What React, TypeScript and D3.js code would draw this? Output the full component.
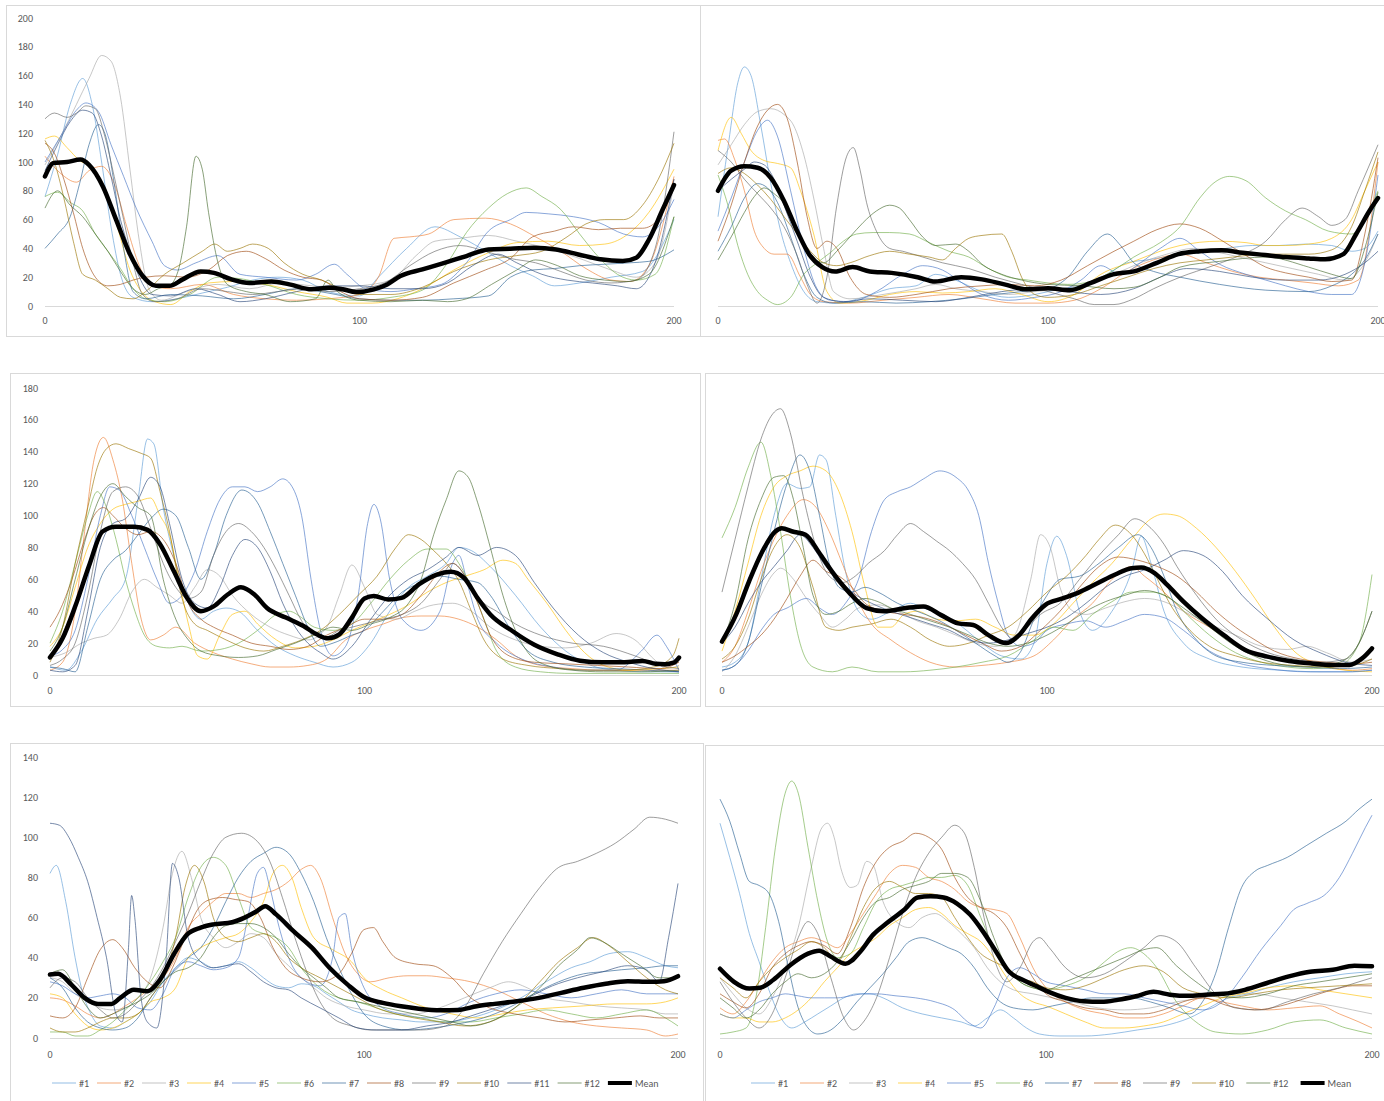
import React from 'react';
import * as d3 from 'd3';

type Pt = [number, number];

const SERIES_COLORS = ['#5B9BD5', '#ED7D31', '#A5A5A5', '#FFC000', '#4472C4', '#70AD47', '#255E91', '#9E480E', '#636363', '#997300', '#264478', '#43682B'];
const LABELS_12 = ['#1', '#2', '#3', '#4', '#5', '#6', '#7', '#8', '#9', '#10', '#11', '#12'];
const LABELS_11 = ['#1', '#2', '#3', '#4', '#5', '#6', '#7', '#8', '#9', '#10', '#12'];
const X_TICKS = [0, 100, 200];

// ---------- Panel 1 ----------
const p1Series: Pt[][] = [
  [[0,76],[4,105],[8,140],[12,158],[15,140],[18,100],[21,55],[24,22],[28,6],[34,3],[42,5],[50,9],[58,13],[66,18],[74,20],[82,18],[90,10],[100,7],[106,20],[115,40],[124,55],[132,48],[141,37],[148,28],[155,21],[162,14],[170,16],[180,20],[190,24],[200,60]],
  [[0,104],[5,92],[10,86],[14,94],[18,97],[22,85],[26,55],[30,28],[34,14],[40,12],[50,15],[60,8],[70,5],[80,4],[90,5],[100,8],[106,20],[111,47],[116,48],[122,50],[130,60],[140,61],[148,57],[156,48],[164,38],[172,26],[180,18],[186,17],[192,28],[200,90]],
  [[0,98],[5,118],[10,140],[14,158],[18,174],[21,170],[24,145],[27,95],[30,45],[33,12],[37,4],[45,10],[55,15],[65,12],[75,16],[85,14],[92,13],[100,14],[110,18],[118,35],[124,45],[132,47],[141,49],[150,45],[160,40],[170,33],[180,25],[188,20],[194,30],[200,85]],
  [[0,116],[3,118],[7,110],[11,101],[15,96],[19,82],[23,55],[27,25],[30,12],[35,3],[40,1],[46,10],[52,16],[60,17],[70,15],[80,10],[90,6],[96,2],[104,2],[112,5],[120,12],[130,25],[141,37],[150,44],[160,45],[170,42],[178,43],[186,51],[192,65],[200,95]],
  [[0,100],[5,118],[10,136],[13,141],[17,135],[21,112],[25,90],[29,68],[34,45],[38,28],[42,25],[48,30],[55,35],[62,22],[70,20],[80,18],[86,22],[92,29],[96,22],[102,12],[110,10],[118,12],[126,15],[134,30],[141,52],[148,60],[153,65],[160,64],[168,62],[176,58],[184,50],[190,48],[195,55],[200,74]],
  [[0,76],[4,79],[8,72],[12,66],[16,50],[20,38],[24,26],[28,12],[32,5],[38,3],[46,8],[55,20],[62,19],[70,15],[80,8],[90,5],[100,4],[110,6],[120,11],[128,30],[134,51],[141,68],[147,78],[153,82],[158,76],[164,67],[170,50],[176,34],[182,22],[188,18],[194,22],[200,62]],
  [[0,40],[4,50],[8,62],[11,85],[14,112],[17,126],[19,120],[22,85],[25,40],[28,10],[32,5],[40,8],[50,7],[60,5],[70,8],[80,12],[90,9],[100,5],[110,4],[120,4],[130,5],[141,7],[148,20],[155,25],[162,26],[170,28],[178,29],[186,30],[192,31],[200,39]],
  [[0,113],[3,106],[6,88],[9,65],[12,40],[16,20],[20,14],[24,15],[28,18],[32,20],[38,21],[45,20],[52,25],[58,35],[64,38],[70,33],[76,25],[82,20],[88,18],[94,10],[100,5],[110,4],[120,6],[130,16],[140,25],[148,33],[155,48],[162,52],[168,55],[176,53],[183,54],[190,54],[195,60],[200,88]],
  [[0,130],[3,134],[7,131],[10,134],[13,139],[16,137],[19,118],[22,90],[25,60],[28,30],[31,8],[35,3],[42,5],[50,12],[58,10],[66,8],[74,10],[82,12],[90,10],[100,12],[108,16],[116,28],[124,38],[132,42],[140,38],[148,33],[156,30],[164,24],[172,18],[180,16],[188,18],[194,40],[200,121]],
  [[0,115],[3,100],[6,75],[9,45],[12,22],[16,18],[20,12],[24,6],[28,5],[32,10],[38,22],[44,30],[50,38],[54,43],[58,38],[62,40],[66,43],[71,40],[76,30],[82,22],[88,18],[94,12],[100,8],[110,8],[120,13],[130,24],[141,32],[150,35],[158,38],[166,48],[172,57],[178,60],[184,60],[190,70],[195,88],[200,113]],
  [[0,94],[4,112],[8,128],[12,136],[15,134],[18,118],[21,90],[24,60],[27,38],[30,20],[34,8],[40,7],[48,12],[55,8],[62,3],[70,5],[80,10],[90,14],[100,14],[110,12],[120,12],[128,16],[136,28],[144,36],[150,30],[158,22],[166,18],[174,16],[182,14],[188,12],[194,30],[200,88]],
  [[0,68],[4,80],[8,70],[12,62],[16,50],[20,38],[24,24],[28,12],[32,8],[36,12],[40,15],[43,30],[45,55],[48,104],[50,95],[52,65],[55,30],[58,15],[64,10],[70,8],[78,3],[86,5],[90,18],[93,10],[100,4],[110,3],[120,4],[128,3],[134,5],[142,15],[150,25],[156,32],[163,28],[170,21],[178,18],[185,17],[192,22],[200,62]],
];
const p1Mean: Pt[] = [[0,90],[2.8,99.4],[7,100],[11.3,101.7],[14,98],[18.4,83],[22.6,60],[26.8,37],[31,21],[35.3,14],[39.6,14],[43.8,18.5],[49.5,24],[53.7,23],[59.3,18.5],[65,16],[72,17],[77.7,15],[84.8,11.6],[90.4,12.7],[94.7,11.6],[98.9,9.7],[104.6,11.6],[108.8,15],[113,20.8],[120,25.4],[127,30],[134,34.7],[141,39.3],[148,39.8],[155.4,40.5],[162.5,39.3],[169.6,35.8],[176.6,32.4],[183.7,31.2],[188,33.5],[192,46],[196.4,67],[200,84]];

// ---------- Panel 2 ----------
const p2Series: Pt[][] = [
  [[0,62],[3,110],[6,155],[8,166],[10,160],[13,125],[16,85],[19,52],[22,30],[26,10],[30,3],[36,2],[44,6],[52,12],[60,14],[66,22],[72,18],[80,10],[88,6],[96,8],[104,12],[112,15],[118,22],[124,30],[130,32],[138,35],[146,37],[154,40],[162,42],[170,42],[178,43],[186,42],[192,38],[196,40],[200,52]],
  [[0,115],[2,116],[5,102],[8,80],[11,52],[14,40],[17,36],[21,36],[25,20],[28,8],[32,3],[40,2],[50,4],[60,6],[70,8],[80,5],[90,2],[100,2],[108,4],[116,12],[124,24],[132,32],[140,36],[148,30],[156,24],[164,20],[172,18],[180,16],[188,14],[194,18],[200,100]],
  [[0,98],[4,112],[8,126],[12,135],[16,137],[20,133],[23,125],[26,105],[29,75],[32,40],[35,10],[40,5],[50,8],[60,12],[66,15],[72,12],[80,10],[88,8],[96,10],[104,12],[112,16],[120,22],[128,30],[136,36],[144,40],[150,38],[158,34],[166,30],[174,26],[182,22],[190,18],[196,30],[200,50]],
  [[0,108],[4,131],[7,120],[10,108],[14,101],[18,99],[22,96],[25,80],[29,50],[33,10],[37,2],[45,4],[52,8],[60,10],[68,9],[76,10],[84,12],[92,8],[100,3],[108,8],[116,22],[126,31],[134,38],[140,42],[152,45],[160,44],[166,42],[172,42],[179,43],[186,47],[192,60],[196,80],[200,100]],
  [[0,52],[4,75],[8,100],[12,122],[15,129],[18,118],[22,80],[26,40],[30,12],[34,4],[40,3],[48,10],[56,22],[62,28],[68,25],[74,16],[80,8],[88,4],[96,6],[104,10],[110,18],[116,28],[122,22],[128,30],[134,40],[140,47],[146,38],[152,29],[160,22],[166,18],[172,14],[179,10],[186,8],[192,8],[196,30],[200,91]],
  [[0,91],[3,70],[6,42],[9,22],[12,10],[15,4],[18,1],[22,6],[26,22],[30,30],[34,37],[38,45],[42,50],[47,51],[52,51],[58,50],[64,44],[70,38],[76,34],[82,26],[88,20],[94,18],[100,16],[106,15],[113,17],[120,25],[126,34],[134,44],[140,55],[146,75],[150,85],[155,90],[160,87],[166,75],[172,66],[178,60],[185,52],[192,50],[196,60],[200,80]],
  [[0,38],[4,55],[8,75],[12,85],[15,82],[18,72],[22,48],[26,22],[30,6],[35,2],[44,3],[54,2],[64,3],[74,5],[84,8],[92,10],[100,12],[106,20],[112,38],[118,50],[122,42],[126,30],[132,24],[140,20],[152,15],[166,11],[179,10],[186,14],[192,22],[196,32],[200,50]],
  [[0,45],[4,70],[8,100],[12,125],[15,136],[18,140],[21,130],[24,100],[27,62],[30,40],[33,45],[36,40],[40,20],[45,8],[52,6],[60,8],[70,12],[80,14],[88,15],[96,14],[104,18],[112,28],[120,38],[126,45],[133,53],[140,57],[146,54],[153,45],[160,35],[166,27],[172,23],[179,20],[186,17],[192,18],[196,50],[200,103]],
  [[0,108],[4,100],[8,88],[12,78],[16,68],[20,55],[24,35],[27,15],[30,2],[33,20],[36,70],[39,104],[41,110],[43,95],[45,72],[48,52],[52,40],[56,38],[62,34],[68,30],[76,26],[84,20],[92,15],[100,10],[108,5],[114,1],[120,1],[126,5],[132,12],[140,20],[150,28],[158,35],[166,45],[172,60],[177,68],[182,62],[186,56],[190,60],[194,80],[200,112]],
  [[0,92],[4,96],[8,92],[12,84],[16,74],[20,62],[24,50],[28,38],[32,30],[36,28],[40,30],[46,35],[52,38],[58,36],[64,34],[68,32],[72,40],[76,47],[80,49],[86,50],[89,38],[92,20],[96,8],[100,6],[108,8],[116,14],[124,20],[132,26],[140,30],[148,32],[156,34],[166,36],[179,36],[186,39],[192,55],[196,80],[200,107]],
  [[0,80],[4,88],[8,95],[11,100],[14,98],[17,88],[20,70],[24,45],[28,20],[32,6],[38,3],[46,5],[56,4],[66,3],[76,6],[86,10],[96,12],[106,10],[116,8],[126,12],[134,20],[142,26],[152,24],[162,20],[172,18],[182,18],[190,22],[196,30],[200,38]],
  [[0,32],[4,48],[8,65],[11,76],[14,82],[17,78],[21,68],[24,52],[28,36],[32,30],[36,38],[40,48],[44,58],[48,66],[52,70],[55,68],[58,60],[62,48],[66,42],[72,43],[76,38],[80,29],[86,22],[92,18],[100,15],[110,14],[120,12],[126,13],[134,20],[140,27],[152,31],[166,34],[179,27],[186,22],[192,19],[196,40],[200,79]],
];
const p2Mean: Pt[] = [[0,80],[4,94],[8,97],[12,96],[16,89],[20,73],[24,52],[27.6,36],[31.6,27],[35.5,24],[40.8,27],[46,24],[52.6,23],[60.5,20],[65.8,17],[73.7,20],[80,18.5],[86.8,15],[93.4,11.6],[100,12.3],[106.6,11],[113,16],[119.7,22],[126,24],[133,30],[139.5,36],[146,38],[152.6,38.7],[159,37],[165.8,35.4],[172,34],[179,33],[184,32.4],[189.5,36],[193.4,50],[197.4,66],[200,75]];

// ---------- Panel 3 ----------
const p3Series: Pt[][] = [
  [[0,5],[5,3],[10,15],[15,35],[20,48],[24,60],[28,110],[31,148],[33,145],[36,105],[40,70],[44,45],[48,35],[52,40],[56,42],[60,40],[66,28],[72,18],[78,12],[84,8],[90,5],[96,8],[102,20],[108,40],[114,55],[120,62],[126,70],[130,80],[134,78],[140,68],[148,50],[156,30],[164,15],[172,6],[180,3],[190,2],[200,2]],
  [[0,3],[4,8],[8,40],[11,90],[14,135],[17,149],[20,135],[23,110],[26,70],[29,35],[32,22],[36,25],[40,30],[46,20],[52,14],[58,10],[64,7],[70,5],[76,5],[82,6],[88,10],[94,22],[100,28],[106,32],[112,36],[118,37],[124,37],[130,35],[136,30],[142,22],[148,12],[156,6],[166,4],[176,3],[186,3],[194,3],[200,3]],
  [[0,11],[5,14],[10,20],[14,23],[18,25],[22,35],[26,52],[30,60],[34,55],[38,50],[42,45],[46,55],[50,66],[54,62],[58,50],[64,38],[70,30],[76,25],[82,22],[88,30],[92,50],[96,69],[100,55],[104,38],[110,35],[116,40],[122,44],[128,45],[134,40],[140,30],[148,22],[156,18],[164,17],[172,20],[180,26],[186,22],[192,10],[196,4],[200,6]],
  [[0,18],[4,30],[8,55],[12,80],[16,95],[20,104],[24,107],[28,109],[32,111],[35,100],[38,88],[41,60],[44,32],[47,12],[50,10],[54,25],[58,38],[62,40],[66,32],[72,22],[78,17],[84,18],[90,22],[96,28],[102,33],[108,38],[114,44],[120,52],[126,58],[132,62],[138,66],[144,72],[148,70],[152,60],[158,45],[164,28],[170,14],[176,6],[184,3],[194,4],[200,5]],
  [[0,12],[4,16],[8,28],[12,60],[16,100],[19,118],[22,116],[26,100],[30,80],[34,60],[38,45],[42,50],[46,65],[50,90],[54,110],[58,118],[62,118],[66,115],[70,118],[74,123],[77,118],[80,100],[83,60],[86,28],[90,12],[94,18],[98,50],[101,95],[103,107],[105,98],[108,60],[112,35],[118,28],[124,40],[128,70],[130,75],[133,55],[136,35],[142,20],[150,10],[160,5],[170,3],[180,3],[188,15],[193,25],[196,18],[200,3]],
  [[0,20],[4,40],[8,70],[12,100],[15,115],[18,105],[21,85],[24,60],[27,40],[30,25],[34,18],[38,17],[42,18],[48,15],[54,16],[60,20],[66,28],[72,38],[76,40],[80,36],[84,30],[90,28],[96,32],[102,45],[108,60],[114,72],[120,79],[126,79],[130,70],[134,55],[138,35],[142,15],[148,5],[156,2],[166,1],[180,1],[194,1],[200,1]],
  [[0,5],[4,4],[8,2],[12,30],[16,60],[20,72],[24,78],[28,88],[32,98],[36,104],[40,100],[44,80],[48,60],[52,75],[56,100],[61,116],[66,108],[70,90],[74,70],[78,50],[82,30],[86,18],[90,20],[96,25],[100,28],[106,40],[112,52],[118,58],[124,62],[130,60],[136,58],[140,50],[146,30],[152,15],[160,8],[170,5],[180,4],[190,3],[200,2]],
  [[0,30],[3,40],[7,60],[11,85],[14,100],[17,105],[20,100],[24,92],[28,88],[32,90],[36,85],[40,70],[44,45],[48,35],[52,30],[58,25],[64,20],[70,18],[76,16],[82,18],[88,25],[94,30],[100,35],[106,35],[112,38],[118,50],[124,65],[128,70],[132,62],[136,45],[140,25],[146,12],[154,8],[164,7],[174,6],[184,5],[194,4],[200,8]],
  [[0,6],[4,10],[8,20],[12,50],[16,90],[20,115],[24,118],[28,112],[32,92],[36,70],[40,55],[44,48],[48,52],[52,75],[56,90],[60,95],[64,90],[68,80],[72,66],[76,50],[80,34],[84,25],[88,24],[92,28],[96,30],[100,32],[106,35],[112,38],[118,45],[124,60],[128,70],[131,65],[134,55],[138,45],[142,40],[148,32],[156,25],[166,20],[176,18],[186,12],[194,6],[200,4]],
  [[0,8],[4,30],[8,70],[12,105],[15,130],[18,142],[21,145],[25,142],[29,139],[32,136],[35,115],[38,90],[42,48],[46,32],[50,28],[56,22],[62,17],[68,15],[74,18],[80,22],[86,28],[92,38],[98,50],[104,62],[110,80],[114,88],[118,85],[122,78],[126,70],[130,59],[134,40],[138,22],[144,10],[152,6],[162,4],[172,3],[182,3],[192,5],[198,12],[200,23]],
  [[0,3],[4,2],[8,6],[12,40],[16,80],[20,95],[24,98],[28,110],[32,124],[35,118],[38,95],[42,60],[46,45],[50,42],[54,55],[58,75],[62,85],[66,80],[70,65],[74,45],[78,30],[82,20],[86,14],[90,10],[96,18],[102,35],[108,50],[114,60],[120,66],[126,74],[130,80],[136,75],[142,80],[148,75],[154,58],[160,42],[168,25],[176,14],[184,8],[192,4],[200,2]],
  [[0,15],[4,30],[8,60],[12,90],[16,112],[20,120],[24,112],[28,105],[32,100],[36,60],[40,35],[44,22],[48,15],[54,12],[60,11],[66,12],[72,16],[78,20],[84,25],[90,30],[96,28],[102,32],[108,36],[114,45],[118,60],[122,88],[126,110],[130,128],[133,124],[136,108],[140,80],[144,50],[148,28],[152,14],[158,6],[166,3],[176,2],[188,2],[200,3]],
];
const p3Mean: Pt[] = [[0,11],[4,23],[8.2,44],[12.5,69],[16.7,90],[21,93],[26.7,93],[31,91],[35,82],[39.4,65],[43.7,48],[48,40],[52,43],[56.5,50.5],[60.7,55],[65,50.5],[69,42],[75,36],[80.6,30.7],[84.8,25.5],[88.4,23],[92,25.5],[96,36],[100,48],[103,49.5],[107.5,47.4],[111.8,48.4],[117.4,57],[123,63],[127.4,64.7],[131.6,61],[135.9,48.4],[140,38],[147,27.6],[154,19],[161.4,13],[168.5,9],[175.6,8],[182.7,8],[188.4,8.8],[192.6,7],[195.5,6.7],[198.3,7.7],[200,10.9]];

// ---------- Panel 4 ----------
const p4Series: Pt[][] = [
  [[0,5],[4,8],[8,20],[12,60],[16,100],[20,120],[24,117],[27,118],[30,138],[32,135],[35,100],[38,65],[42,40],[46,35],[52,40],[58,45],[62,42],[68,38],[74,30],[80,20],[86,12],[92,10],[96,20],[100,70],[103,87],[106,75],[110,40],[114,28],[120,40],[126,65],[129,87],[132,70],[136,40],[142,20],[150,10],[160,5],[172,3],[184,2],[194,2],[200,3]],
  [[0,8],[4,18],[8,40],[12,65],[16,85],[20,100],[25,110],[29,105],[33,90],[37,70],[41,50],[46,32],[52,22],[58,14],[64,8],[72,5],[80,6],[88,8],[96,12],[102,22],[108,35],[114,45],[120,60],[126,68],[130,62],[136,52],[142,40],[150,30],[158,20],[166,12],[176,8],[186,5],[194,3],[200,4]],
  [[0,2],[4,12],[8,30],[12,50],[16,64],[18,67],[22,60],[26,48],[30,38],[34,30],[38,35],[42,42],[48,44],[54,40],[60,34],[66,30],[72,25],[78,20],[84,18],[90,25],[95,60],[98,88],[101,80],[104,55],[108,40],[112,38],[118,42],[124,46],[130,48],[136,46],[142,40],[150,32],[158,25],[166,18],[174,16],[180,18],[186,14],[194,8],[200,10]],
  [[0,15],[4,40],[8,70],[12,100],[16,118],[20,125],[24,128],[28,131],[32,128],[36,115],[40,90],[44,55],[48,30],[52,30],[56,38],[60,40],[66,35],[72,34],[78,35],[84,30],[90,25],[96,25],[102,32],[108,45],[114,58],[120,70],[126,85],[132,98],[136,101],[140,100],[146,92],[152,80],[158,65],[164,48],[170,30],[176,15],[184,6],[192,3],[200,2]],
  [[0,3],[4,6],[8,15],[12,28],[16,38],[20,42],[26,48],[30,42],[34,38],[38,45],[42,60],[46,90],[50,110],[54,115],[58,118],[62,123],[67,128],[72,124],[76,115],[79,100],[82,70],[85,45],[88,25],[92,18],[96,20],[100,28],[106,32],[112,34],[118,30],[124,34],[130,38],[136,36],[142,28],[150,15],[158,8],[168,4],[180,2],[192,2],[200,3]],
  [[0,86],[4,105],[8,130],[12,146],[15,125],[18,90],[21,50],[24,20],[28,5],[34,2],[40,5],[48,2],[56,2],[64,3],[72,5],[80,8],[88,12],[96,22],[102,30],[108,28],[114,38],[120,46],[126,52],[132,52],[138,48],[144,36],[150,25],[158,14],[166,8],[174,5],[182,4],[190,6],[196,20],[200,63]],
  [[0,3],[4,6],[8,20],[12,55],[16,90],[20,120],[24,138],[27,128],[30,100],[33,70],[36,55],[40,52],[44,55],[48,52],[54,45],[60,40],[66,35],[72,28],[78,20],[84,12],[88,8],[92,15],[96,35],[100,50],[104,60],[110,62],[116,70],[122,80],[128,88],[132,80],[136,62],[140,40],[146,22],[152,12],[160,8],[170,6],[180,5],[190,4],[200,5]],
  [[0,8],[4,12],[8,18],[12,25],[16,35],[20,48],[24,62],[28,72],[32,65],[36,62],[40,55],[44,45],[50,40],[56,38],[62,36],[68,32],[74,26],[80,20],[86,15],[92,18],[98,28],[104,40],[110,55],[116,68],[122,74],[128,72],[134,68],[140,62],[146,52],[152,40],[158,30],[164,22],[170,15],[178,10],[186,8],[194,7],[200,8]],
  [[0,52],[4,85],[8,118],[12,148],[15,162],[18,167],[21,152],[25,112],[29,80],[33,62],[37,58],[41,62],[45,70],[50,78],[54,88],[58,95],[62,90],[66,84],[70,78],[74,70],[78,60],[82,45],[86,30],[90,22],[94,30],[98,38],[104,45],[110,60],[116,75],[122,88],[127,98],[132,92],[136,82],[140,68],[146,50],[152,35],[160,22],[168,14],[176,10],[184,8],[192,10],[196,20],[200,40]],
  [[0,10],[4,18],[8,35],[12,60],[16,80],[20,88],[24,80],[28,55],[32,30],[36,28],[40,30],[46,32],[52,35],[58,30],[64,22],[70,18],[76,20],[82,25],[88,30],[94,40],[100,52],[106,62],[112,75],[116,85],[121,94],[126,88],[130,76],[134,60],[138,44],[144,28],[150,18],[158,12],[166,8],[176,6],[186,5],[194,6],[200,10]],
  [[0,20],[4,30],[8,45],[12,58],[16,68],[20,78],[24,88],[28,80],[32,68],[36,60],[40,52],[46,45],[52,40],[58,36],[64,32],[70,28],[76,22],[82,20],[88,22],[94,26],[100,30],[106,36],[112,45],[118,55],[124,62],[130,66],[136,72],[142,78],[148,75],[154,65],[160,50],[168,35],[176,22],[184,14],[192,8],[200,6]],
  [[0,20],[4,45],[8,85],[12,110],[16,124],[19,125],[22,110],[25,80],[28,50],[32,38],[36,40],[40,45],[44,48],[48,46],[52,42],[58,38],[64,34],[70,30],[76,25],[82,20],[88,18],[94,20],[100,25],[106,32],[112,40],[118,46],[124,50],[130,53],[136,50],[142,42],[150,30],[158,18],[166,10],[174,6],[182,5],[190,8],[196,20],[200,40]],
];
const p4Mean: Pt[] = [[0,21],[4.3,37.7],[8.3,58.6],[12.3,77],[16.4,90],[18.4,92],[21.7,90],[25.7,88],[29.8,77],[33.8,65],[39,52],[44.5,42],[50,40],[56.6,42],[62,43],[67.3,37.7],[72.7,32.4],[77.3,31.4],[82,25],[87.4,20],[91.4,25],[95.4,35.6],[99.5,44],[104.8,48],[110,52],[115.5,57.5],[121,63],[126,67],[129,67.4],[133,64],[137,56.5],[142,46],[147.7,35.6],[154.4,25],[161,15.7],[167.8,11.5],[174.5,8.8],[181,7.3],[188,6.3],[193,6.3],[197,10.5],[200,16.7]];

// ---------- Panel 5 ----------
const p5Series: Pt[][] = [
  [[0,82],[2,86],[5,68],[8,40],[10,25],[13,12],[16,6],[20,5],[24,8],[28,12],[32,18],[36,28],[40,35],[44,40],[48,38],[52,35],[56,36],[60,38],[64,35],[68,30],[72,26],[76,25],[80,27],[84,26],[88,22],[92,18],[96,14],[100,12],[106,10],[112,9],[118,8],[126,8],[134,10],[142,14],[150,20],[158,28],[166,35],[172,38],[178,42],[184,43],[190,40],[196,36],[200,35]],
  [[0,20],[4,19],[8,16],[12,12],[16,10],[20,12],[24,16],[28,20],[32,25],[36,30],[40,40],[44,55],[48,62],[52,68],[56,72],[60,72],[64,70],[68,72],[72,74],[76,78],[80,84],[83,86],[86,80],[90,60],[94,42],[98,32],[102,28],[108,30],[114,31],[120,31],[126,30],[134,28],[142,24],[150,18],[158,12],[166,8],[174,6],[182,5],[190,4],[196,1],[200,2]],
  [[0,30],[4,28],[8,22],[12,18],[16,15],[20,14],[24,15],[28,20],[32,30],[36,55],[39,82],[42,93],[45,80],[48,60],[52,50],[56,45],[60,48],[64,52],[68,50],[72,42],[76,36],[80,30],[84,25],[88,20],[94,16],[100,14],[108,12],[116,12],[124,15],[132,20],[140,25],[146,28],[152,25],[158,20],[166,18],[174,16],[182,15],[190,14],[196,12],[200,12]],
  [[0,22],[4,20],[8,12],[12,6],[16,4],[20,5],[24,8],[28,12],[32,18],[36,20],[40,25],[44,40],[48,45],[52,48],[56,50],[60,52],[64,58],[68,68],[71,82],[74,86],[77,80],[80,65],[84,50],[90,44],[96,38],[100,30],[106,24],[112,20],[120,15],[128,12],[136,10],[144,12],[152,14],[160,15],[170,16],[180,17],[190,17],[196,18],[200,20]],
  [[0,28],[4,26],[8,22],[12,20],[16,21],[20,22],[24,20],[28,15],[32,14],[36,22],[40,35],[44,38],[48,36],[52,34],[56,35],[60,40],[63,60],[66,82],[68,85],[70,75],[73,55],[76,40],[80,30],[86,26],[90,40],[92,60],[94,62],[96,45],[100,25],[106,15],[112,12],[120,10],[126,12],[134,18],[142,22],[150,24],[158,22],[166,20],[174,22],[182,24],[190,22],[196,22],[200,22]],
  [[0,3],[4,3],[8,1],[12,1],[16,4],[20,8],[24,14],[28,20],[32,28],[36,38],[40,50],[44,70],[48,85],[52,90],[56,86],[60,70],[64,55],[68,52],[72,50],[76,45],[80,35],[86,25],[92,20],[98,18],[104,15],[110,12],[118,10],[126,8],[134,8],[142,10],[150,12],[158,14],[166,12],[174,10],[182,12],[190,14],[196,10],[200,6]],
  [[0,30],[4,25],[8,15],[12,8],[16,5],[20,4],[24,5],[28,10],[32,20],[36,28],[40,34],[44,40],[48,45],[52,55],[56,68],[60,80],[64,88],[68,92],[72,95],[76,92],[80,82],[84,68],[88,50],[92,35],[96,22],[100,12],[106,6],[114,4],[122,5],[130,7],[138,10],[146,15],[154,22],[162,28],[170,32],[176,33],[182,34],[190,35],[196,36],[200,36]],
  [[0,11],[4,10],[8,15],[12,30],[16,44],[20,49],[23,45],[27,35],[31,28],[35,25],[39,35],[43,50],[47,64],[51,69],[55,70],[59,69],[63,68],[67,60],[71,45],[75,35],[80,30],[86,28],[92,32],[96,42],[100,54],[103,55],[106,48],[110,40],[116,37],[122,36],[128,30],[134,20],[140,15],[148,12],[156,10],[164,8],[172,9],[180,10],[188,11],[194,10],[200,10]],
  [[0,25],[4,30],[8,28],[12,20],[16,14],[20,10],[24,12],[28,18],[32,25],[36,35],[40,48],[44,62],[48,78],[52,92],[56,100],[61,102],[66,98],[70,88],[74,70],[78,50],[82,32],[86,18],[90,10],[96,6],[102,4],[110,4],[118,4],[126,6],[132,15],[138,32],[144,48],[150,62],[156,75],[162,85],[168,88],[174,92],[180,97],[186,104],[191,110],[196,109],[200,107]],
  [[0,5],[4,3],[8,3],[12,5],[16,8],[20,10],[24,10],[28,12],[32,20],[36,30],[40,50],[43,75],[46,86],[49,78],[52,60],[56,50],[60,48],[64,50],[68,52],[72,48],[76,40],[80,35],[86,30],[92,25],[98,20],[104,15],[110,12],[116,10],[124,8],[132,6],[140,8],[148,15],[156,28],[162,38],[168,45],[173,50],[178,46],[184,38],[190,30],[196,24],[200,22]],
  [[0,107],[3,106],[6,100],[9,90],[12,78],[15,60],[18,40],[21,12],[23,8],[25,45],[26,71],[27,60],[29,20],[31,8],[34,5],[37,40],[39,87],[41,80],[44,50],[48,38],[52,35],[56,36],[60,37],[64,33],[68,28],[72,25],[76,24],[80,20],[86,15],[92,10],[98,5],[104,4],[112,4],[120,6],[128,8],[136,12],[144,16],[152,20],[160,26],[168,30],[176,33],[184,36],[190,34],[194,28],[197,50],[200,77]],
  [[0,32],[4,34],[8,25],[12,15],[16,10],[20,12],[24,15],[28,18],[32,22],[36,28],[40,33],[44,35],[48,40],[52,50],[56,56],[60,57],[64,57],[68,55],[72,50],[76,42],[80,35],[84,30],[88,25],[92,20],[98,18],[104,16],[110,14],[116,12],[122,10],[128,8],[134,6],[140,8],[148,15],[156,25],[162,36],[168,44],[172,50],[176,48],[182,42],[188,36],[194,30],[200,30]],
];
const p5Mean: Pt[] = [[0,31.6],[2.6,32],[6.8,26.6],[11,20],[15.3,17],[19.6,17],[22.4,20],[26.7,24],[31,23.3],[35,29],[39.4,41.6],[43.7,51.6],[48,55],[52,56.6],[58,57.7],[62,60],[65.7,63],[68.5,65.7],[72,61.6],[77.7,53],[83.4,45],[89,35],[94.8,26.6],[100.4,20],[106,17.5],[111.8,15.8],[117.4,14.6],[124.5,13.8],[130,14],[135.9,15.8],[141.6,17],[148.7,18.3],[155.7,20],[162.8,22.5],[170,25],[177,27],[184,28.3],[191,28],[195.5,28.3],[200,30.8]];

// ---------- Panel 6 ----------
const p6Series: Pt[][] = [
  [[0,107],[3,90],[6,72],[9,52],[12,38],[15,24],[18,12],[22,5],[26,8],[30,12],[34,16],[38,20],[42,22],[46,22],[50,20],[56,15],[62,12],[68,10],[74,8],[78,6],[82,10],[86,14],[90,10],[94,5],[98,2],[104,1],[112,1],[120,2],[128,4],[136,6],[144,10],[150,15],[156,20],[162,22],[168,25],[176,28],[184,30],[192,32],[200,33]],
  [[0,15],[4,12],[8,18],[12,28],[16,38],[20,45],[24,48],[28,50],[32,48],[36,45],[40,52],[44,62],[48,72],[52,82],[56,86],[60,85],[64,80],[68,78],[72,74],[76,68],[80,65],[84,64],[88,62],[92,50],[96,35],[100,25],[106,18],[112,14],[118,12],[124,10],[130,10],[136,12],[142,16],[148,20],[154,18],[160,16],[168,14],[176,15],[184,16],[190,12],[196,8],[200,5]],
  [[0,30],[4,22],[8,15],[12,12],[16,20],[20,35],[24,55],[28,85],[31,104],[33,107],[35,100],[37,85],[40,75],[42,76],[45,88],[47,86],[50,68],[54,58],[58,55],[62,60],[66,62],[70,58],[74,52],[78,45],[82,35],[86,28],[90,24],[96,22],[102,20],[108,18],[116,15],[124,14],[132,15],[140,18],[148,20],[156,22],[164,22],[172,20],[180,18],[188,16],[194,14],[200,12]],
  [[0,12],[4,10],[8,10],[12,8],[16,8],[20,10],[24,14],[28,20],[32,28],[36,35],[40,42],[44,46],[48,50],[52,56],[56,60],[60,64],[64,65],[68,62],[72,56],[76,52],[80,48],[84,40],[88,30],[92,22],[96,18],[100,16],[106,12],[112,8],[118,5],[124,5],[130,6],[136,8],[142,12],[148,16],[154,20],[160,22],[168,25],[176,26],[184,24],[192,22],[200,20]],
  [[0,12],[4,10],[8,14],[12,18],[16,20],[20,22],[24,21],[28,20],[32,20],[36,20],[40,21],[44,22],[48,22],[54,21],[60,20],[66,18],[72,14],[76,8],[80,5],[84,15],[88,30],[92,35],[96,32],[100,28],[106,26],[112,24],[118,22],[124,22],[130,20],[136,18],[142,16],[148,14],[154,18],[160,30],[166,44],[172,56],[176,64],[180,67],[186,72],[190,80],[194,92],[198,105],[200,111]],
  [[0,2],[4,3],[8,5],[11,20],[14,55],[17,95],[20,122],[22,128],[24,122],[27,95],[30,68],[33,48],[36,40],[40,42],[44,55],[48,68],[52,74],[56,76],[60,78],[64,80],[68,80],[72,81],[76,76],[80,60],[84,45],[88,35],[92,28],[96,25],[100,24],[106,26],[112,30],[118,38],[122,43],[126,45],[130,42],[134,35],[140,18],[146,8],[152,3],[160,2],[168,4],[176,8],[184,9],[192,5],[200,2]],
  [[0,119],[3,108],[6,92],[9,78],[12,76],[15,72],[18,58],[21,35],[24,15],[27,5],[30,2],[34,4],[38,10],[42,18],[46,25],[50,32],[54,40],[58,48],[62,50],[66,48],[70,45],[74,42],[78,35],[82,25],[86,18],[90,15],[96,14],[102,16],[108,18],[114,20],[120,20],[126,20],[132,18],[138,15],[144,12],[148,18],[152,32],[156,55],[160,75],[164,83],[168,86],[174,90],[180,96],[186,102],[192,108],[196,114],[200,119]],
  [[0,22],[4,18],[8,15],[12,22],[16,35],[20,42],[24,46],[28,48],[32,46],[36,42],[40,55],[44,75],[48,88],[52,95],[56,98],[60,102],[64,100],[68,94],[72,80],[76,70],[80,65],[84,62],[88,55],[92,42],[96,30],[100,22],[106,18],[112,15],[118,14],[124,12],[130,12],[136,14],[142,18],[148,20],[156,16],[164,14],[172,16],[180,20],[188,24],[194,26],[200,26]],
  [[0,28],[4,18],[8,10],[12,5],[16,12],[20,30],[24,50],[27,58],[30,52],[34,30],[38,10],[41,4],[44,8],[48,20],[52,40],[56,62],[60,80],[64,92],[68,100],[72,106],[75,102],[78,85],[81,60],[84,40],[88,28],[92,35],[96,48],[98,50],[101,45],[106,35],[112,30],[118,32],[124,38],[130,45],[135,51],[140,48],[146,35],[152,22],[158,15],[166,14],[174,18],[182,22],[190,25],[196,28],[200,30]],
  [[0,30],[4,25],[8,20],[12,28],[16,35],[20,40],[24,44],[28,48],[32,45],[36,38],[40,50],[44,65],[48,75],[52,78],[56,75],[60,72],[64,72],[68,70],[72,60],[76,50],[80,42],[84,38],[88,35],[92,30],[96,28],[100,25],[106,24],[112,26],[118,30],[124,34],[130,36],[136,33],[142,25],[148,22],[156,20],[164,22],[172,24],[180,25],[190,26],[200,27]],
  [[0,20],[4,15],[8,10],[12,14],[16,22],[20,28],[24,32],[28,30],[32,32],[36,38],[40,48],[44,60],[48,68],[52,70],[56,74],[60,76],[64,78],[68,82],[72,82],[76,80],[80,68],[84,50],[88,35],[92,28],[96,25],[100,24],[106,28],[112,32],[118,36],[124,40],[130,44],[134,45],[140,36],[146,28],[152,22],[160,20],[168,22],[176,26],[184,28],[192,30],[200,32]],
];
const p6Mean: Pt[] = [[0,34.5],[4.3,28],[9,24.6],[12.3,25],[16.4,29],[21.7,36.5],[27,42],[30.4,43.5],[33.8,40.7],[38.5,37],[43,43],[47,51.5],[51,57],[56.6,64],[60.6,70],[64.6,70.6],[68.6,70],[72.7,67],[76.7,61.5],[80.7,53],[84.7,43],[88.7,33],[92.8,29],[96.8,26],[100.8,23],[106,20],[111.5,18.3],[117,18],[122,19],[127.6,20.8],[133,23],[138,21.6],[143.7,21],[149,21.6],[154.4,22],[161,24],[167.8,27.4],[174.5,30.7],[181,33],[188,34],[194.6,36],[200,35.7]];

const Y_TICKS_200 = d3.range(0, 201, 20);
const Y_TICKS_180 = d3.range(0, 181, 20);
const Y_TICKS_140 = d3.range(0, 141, 20);

interface PanelCfg {
  frame: [number, number, number, number];
  x0: number; x1: number; yBase: number; yTop: number; yMax: number;
  yTicks: number[] | null; yLabelX: number; xLabelY: number;
  series: Pt[][]; mean: Pt[]; labels: string[];
  legend: { x: number; y: number; gap: number } | null;
}

const PANELS: PanelCfg[] = [
  { frame: [6, 5, 694, 331], x0: 45, x1: 674, yBase: 306, yTop: 18, yMax: 200, yTicks: Y_TICKS_200, yLabelX: 33, xLabelY: 324, series: p1Series, mean: p1Mean, labels: LABELS_12, legend: null },
  { frame: [700, 5, 700, 331], x0: 718, x1: 1378, yBase: 306, yTop: 18, yMax: 200, yTicks: null, yLabelX: 0, xLabelY: 324, series: p2Series, mean: p2Mean, labels: LABELS_12, legend: null },
  { frame: [10, 373, 690, 333], x0: 50, x1: 679, yBase: 675, yTop: 388, yMax: 180, yTicks: Y_TICKS_180, yLabelX: 38, xLabelY: 694, series: p3Series, mean: p3Mean, labels: LABELS_12, legend: null },
  { frame: [705, 373, 700, 333], x0: 722, x1: 1372, yBase: 675, yTop: 388, yMax: 180, yTicks: null, yLabelX: 0, xLabelY: 694, series: p4Series, mean: p4Mean, labels: LABELS_12, legend: null },
  { frame: [10, 743, 693, 370], x0: 50, x1: 678, yBase: 1038, yTop: 757, yMax: 140, yTicks: Y_TICKS_140, yLabelX: 38, xLabelY: 1058, series: p5Series, mean: p5Mean, labels: LABELS_12, legend: { x: 52, y: 1083, gap: 7.4 } },
  { frame: [705, 745, 700, 370], x0: 720, x1: 1372, yBase: 1038, yTop: 757, yMax: 140, yTicks: null, yLabelX: 0, xLabelY: 1058, series: p6Series, mean: p6Mean, labels: LABELS_11, legend: { x: 751, y: 1083, gap: 11.4 } },
];

const FONT = "Carlito, Calibri, Lato, 'Liberation Sans', sans-serif";
const TEXT_COLOR = '#595959';

function colorFor(label: string) {
  const n = parseInt(label.replace('#', ''), 10);
  return SERIES_COLORS[(n - 1) % SERIES_COLORS.length];
}

function Legend({ cfg }: { cfg: PanelCfg }) {
  if (!cfg.legend) return null;
  const items = [...cfg.labels, 'Mean'];
  let cx = cfg.legend.x;
  const y = cfg.legend.y;
  return (
    <g>
      {items.map((lab) => {
        const isMean = lab === 'Mean';
        const x = cx;
        const tw = lab.length * 5.3;
        cx += 27 + tw + cfg.legend!.gap;
        return (
          <g key={lab}>
            <line x1={x} x2={x + 24} y1={y} y2={y} stroke={isMean ? '#000' : colorFor(lab)} strokeWidth={isMean ? 4 : 1} strokeOpacity={isMean ? 1 : 0.65} />
            <text x={x + 27} y={y + 3.5} fontSize={10} fill={TEXT_COLOR} fontFamily={FONT}>{lab}</text>
          </g>
        );
      })}
    </g>
  );
}

function Panel({ cfg }: { cfg: PanelCfg }) {
  const x = d3.scaleLinear().domain([0, 200]).range([cfg.x0, cfg.x1]);
  const y = d3.scaleLinear().domain([0, cfg.yMax]).range([cfg.yBase, cfg.yTop]);
  const line = d3.line<Pt>().x((d) => x(d[0])).y((d) => y(Math.max(0, d[1]))).curve(d3.curveMonotoneX);
  const [fx, fy, fw, fh] = cfg.frame;
  return (
    <g>
      <rect x={fx + 0.5} y={fy + 0.5} width={fw} height={fh} fill="#fff" stroke="#D9D9D9" strokeWidth={1} />
      <line x1={cfg.x0} x2={cfg.x1} y1={cfg.yBase + 0.5} y2={cfg.yBase + 0.5} stroke="#D9D9D9" strokeWidth={1} />
      {cfg.yTicks && cfg.yTicks.map((t) => (
        <text key={t} x={cfg.yLabelX} y={y(t) + 3.5} textAnchor="end" fontSize={10} fill={TEXT_COLOR} fontFamily={FONT}>{t}</text>
      ))}
      {X_TICKS.map((t) => (
        <text key={t} x={x(t)} y={cfg.xLabelY} textAnchor="middle" fontSize={10} fill={TEXT_COLOR} fontFamily={FONT}>{t}</text>
      ))}
      {cfg.series.map((s, i) => (
        <path key={i} d={line(s) || ''} fill="none" stroke={colorFor(cfg.labels[i])} strokeWidth={0.9} strokeOpacity={0.7} />
      ))}
      <path d={line(cfg.mean) || ''} fill="none" stroke="#000" strokeWidth={4.5} strokeLinejoin="round" strokeLinecap="round" />
      <Legend cfg={cfg} />
    </g>
  );
}

export default function App() {
  return (
    <div style={{ position: 'absolute', left: 0, top: 0, width: 1384, height: 1101, overflow: 'hidden', background: '#fff' }}>
      <svg width={1384} height={1101} style={{ display: 'block' }}>
        <rect x={0} y={0} width={1384} height={1101} fill="#fff" />
        {PANELS.map((p, i) => <Panel key={i} cfg={p} />)}
      </svg>
    </div>
  );
}
